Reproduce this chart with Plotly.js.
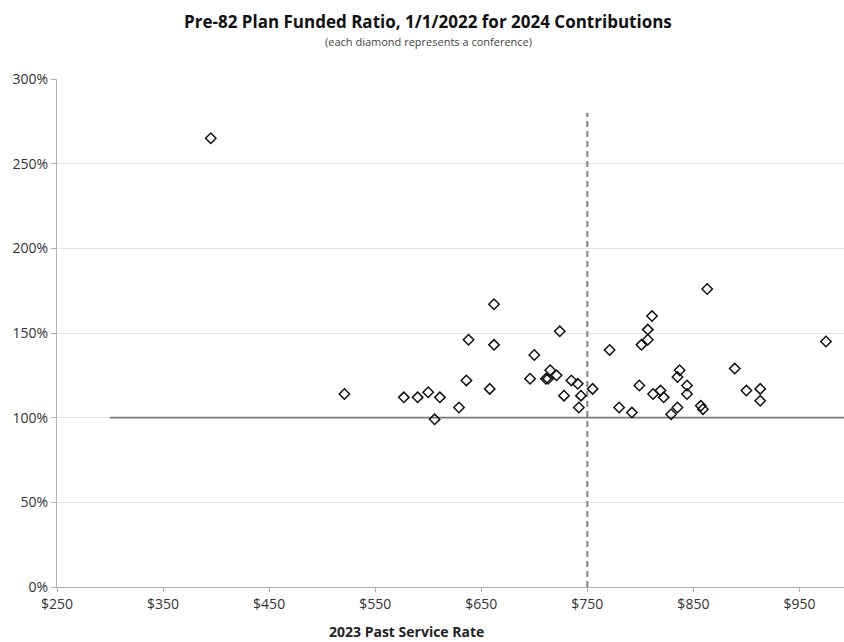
<!DOCTYPE html>
<html>
<head>
<meta charset="utf-8">
<script src="https://cdn.plot.ly/plotly-3.0.1.min.js"></script>
<style>html,body{margin:0;padding:0;background:#fff;}#chart{width:844px;height:642px;}</style>
</head>
<body>
<div id="chart"></div>
<script>
// Past service rate ($) per conference
var pastServiceRate = [395, 521, 577, 590, 600, 606, 611, 629, 636, 638, 658, 662, 662,
  696, 700, 711, 713, 715, 721, 724, 728, 735, 741, 742, 744, 755,
  771, 780, 792, 799, 801, 807, 807, 811, 812, 819, 822, 829, 835, 835, 837,
  844, 844, 857, 859, 863, 889, 900, 913, 913, 975];
// Funded ratio (%) per conference
var fundedRatio = [265, 114, 112, 112, 115, 99, 112, 106, 122, 146, 117, 167, 143,
  123, 137, 123, 123, 128, 125, 151, 113, 122, 120, 106, 113, 117,
  140, 106, 103, 119, 143, 146, 152, 160, 114, 116, 112, 102, 106, 124, 128,
  119, 114, 107, 105, 176, 129, 116, 117, 110, 145];
// Reference lines
var fullFundingX = [300, 1000];
var fullFundingY = [100, 100];
var targetRateX = [750, 750];
var targetRateY = [0, 280];
var xTickVals = [250, 350, 450, 550, 650, 750, 850, 950];
var xTickText = ['$250', '$350', '$450', '$550', '$650', '$750', '$850', '$950'];
var yTickVals = [0, 50, 100, 150, 200, 250, 300];
var yTickText = ['0%', '50%', '100%', '150%', '200%', '250%', '300%'];

var traces = [
  {x: fullFundingX, y: fullFundingY, mode: 'lines', type: 'scatter',
   line: {color: '#7a7a7a', width: 1.8}, hoverinfo: 'skip', showlegend: false},
  {x: targetRateX, y: targetRateY, mode: 'lines', type: 'scatter',
   line: {color: '#8c8c8c', width: 2.2, dash: '6px,4px'}, hoverinfo: 'skip', showlegend: false},
  {x: pastServiceRate, y: fundedRatio, mode: 'markers', type: 'scatter',
   marker: {symbol: 'diamond-open', size: 8, color: '#111', line: {width: 1.5, color: '#111'}},
   showlegend: false}
];

var fontFam = '"Open Sans", "Liberation Sans", sans-serif';
var layout = {
  width: 844, height: 642,
  margin: {l: 57, r: 0, t: 79, b: 55},
  paper_bgcolor: '#fff', plot_bgcolor: '#fff',
  font: {family: fontFam, color: '#222'},
  title: {text: '<b>Pre-82 Plan Funded Ratio, 1/1/2022 for 2024 Contributions</b>',
    x: 0.507, xref: 'container', xanchor: 'center', y: 0.965, yref: 'container', yanchor: 'middle',
    font: {size: 17, color: '#111', family: fontFam}},
  annotations: [
    {text: '(each diamond represents a conference)', xref: 'paper', yref: 'paper',
     x: (428 - 57) / 787, y: 1 + (79 - 42) / 508, xanchor: 'center', yanchor: 'middle',
     showarrow: false, font: {size: 11, color: '#444', family: fontFam}},
    {text: '<b>2023 Past Service Rate</b>', xref: 'paper', yref: 'paper',
     x: (406 - 57) / 787, y: -(631 - 587) / 508, xanchor: 'center', yanchor: 'middle',
     showarrow: false, font: {size: 14, color: '#222', family: fontFam}}
  ],
  xaxis: {range: [250, 992], tickvals: xTickVals, ticktext: xTickText,
    showgrid: false, zeroline: false, showline: true, linecolor: '#b0b0b0', linewidth: 1,
    ticks: 'outside', ticklen: 4, tickcolor: '#b0b0b0',
    tickfont: {size: 14, color: '#333', family: fontFam}},
  yaxis: {range: [0, 300], tickvals: yTickVals, ticktext: yTickText,
    showgrid: true, gridcolor: '#e4e4e4', gridwidth: 1, zeroline: false,
    showline: true, linecolor: '#b0b0b0', linewidth: 1,
    ticks: 'outside', ticklen: 5, tickcolor: '#b0b0b0',
    tickfont: {size: 14, color: '#333', family: fontFam}}
};

Plotly.newPlot('chart', traces, layout, {displayModeBar: false, staticPlot: true});
</script>
</body>
</html>
